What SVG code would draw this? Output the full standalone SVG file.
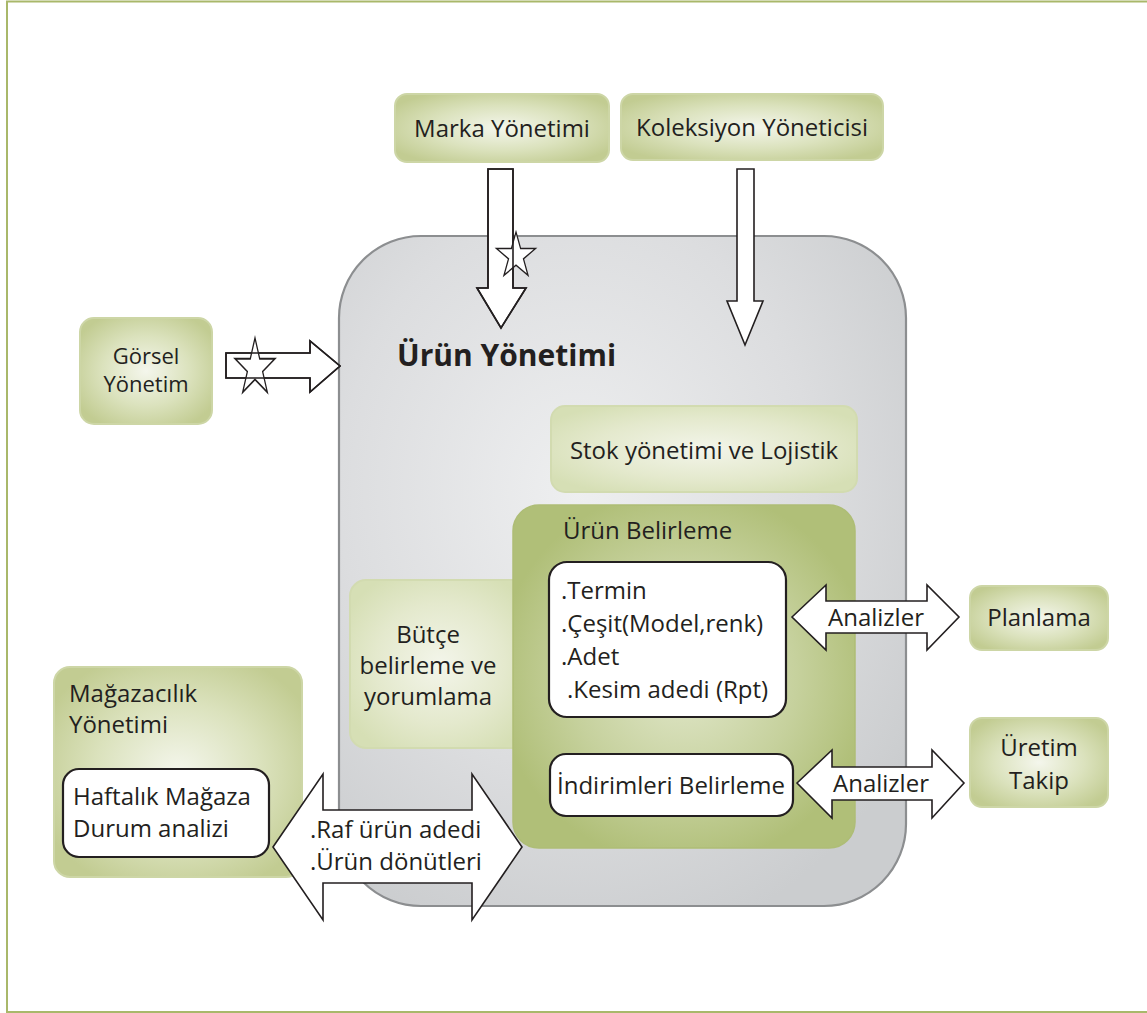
<svg xmlns="http://www.w3.org/2000/svg" width="1147" height="1013" viewBox="0 0 1147 1013">
  <defs>
    <radialGradient id="gGray" cx="0.42" cy="0.38" r="0.7">
      <stop offset="0" stop-color="#eeeff0"/>
      <stop offset="0.6" stop-color="#dcdddf"/>
      <stop offset="1" stop-color="#cbcdcf"/>
    </radialGradient>
    <radialGradient id="gGreen" cx="0.5" cy="0.5" r="0.6">
      <stop offset="0" stop-color="#f4f6ec"/>
      <stop offset="0.55" stop-color="#dbe2bd"/>
      <stop offset="1" stop-color="#c2cc92"/>
    </radialGradient>
    <radialGradient id="gPale" cx="0.5" cy="0.5" r="0.6">
      <stop offset="0" stop-color="#f3f5ea"/>
      <stop offset="0.6" stop-color="#e4e9cd"/>
      <stop offset="1" stop-color="#d6dfb5"/>
    </radialGradient>
    <radialGradient id="gDeep" cx="0.5" cy="0.5" r="0.55">
      <stop offset="0" stop-color="#e2e8cc"/>
      <stop offset="0.6" stop-color="#c6d19d"/>
      <stop offset="1" stop-color="#b0bf78"/>
    </radialGradient>
    <polygon id="star" points="0,-1 0.2245,-0.309 0.951,-0.309 0.3633,0.118 0.588,0.809 0,0.382 -0.588,0.809 -0.3633,0.118 -0.951,-0.309 -0.2245,-0.309"/>
  </defs>
  <style>
    text { font-family: "Open Sans", "Noto Sans", "Liberation Sans", sans-serif; fill: #231f20; font-size: 24px; }
    .mid { text-anchor: middle; }
    .small { font-size: 22px; }
    .title { font-weight: bold; font-size: 30px; }
    .box { fill: url(#gGreen); stroke: #cdd6a6; stroke-width: 2; }
    .pale { fill: url(#gPale); stroke: #d2dbb0; stroke-width: 2; }
    .deep { fill: url(#gDeep); stroke: #aebd76; stroke-width: 1.5; }
    .white { fill: #ffffff; stroke: #231f20; stroke-width: 2.2; }
    .arrow { fill: #ffffff; stroke: #231f20; stroke-width: 1.6; stroke-linejoin: miter; }
    .outline { fill: none; stroke: #231f20; stroke-width: 1.6; }
    .star { fill: #ffffff; stroke: #231f20; stroke-width: 0.06; }
  </style>

  <!-- page frame -->
  <rect x="7" y="1.5" width="1150" height="1010.5" fill="#ffffff" stroke="#a9b86a" stroke-width="2"/>

  <!-- central product-management area -->
  <g id="urun-yonetimi">
    <rect x="339" y="236" width="567" height="670" rx="82" fill="url(#gGray)" stroke="#8c8e90" stroke-width="2.2"/>
    <text class="title" x="397" y="366">Ürün Yönetimi</text>
  </g>

  <g id="stok">
    <rect class="pale" x="551" y="406" width="306" height="86" rx="14"/>
    <text class="mid" x="704" y="459">Stok yönetimi ve Lojistik</text>
  </g>

  <g id="butce">
    <rect class="pale" x="350" y="580" width="180" height="168" rx="16"/>
    <text class="mid" x="428" y="643">Bütçe</text>
    <text class="mid" x="428" y="674">belirleme ve</text>
    <text class="mid" x="428" y="705">yorumlama</text>
  </g>

  <g id="urun-belirleme">
    <rect class="deep" x="513" y="505" width="342" height="343" rx="26"/>
    <text x="563" y="539">Ürün Belirleme</text>
  </g>

  <g id="termin">
    <rect class="white" x="549" y="562" width="237" height="155" rx="18"/>
    <text x="561" y="599">.Termin</text>
    <text x="561" y="632">.Çeşit(Model,renk)</text>
    <text x="561" y="665">.Adet</text>
    <text x="567" y="698">.Kesim adedi (Rpt)</text>
  </g>

  <g id="indirimler">
    <rect class="white" x="550" y="754" width="243" height="62" rx="16"/>
    <text class="mid" x="671" y="794">İndirimleri Belirleme</text>
  </g>

  <!-- outer departments -->
  <g id="marka">
    <rect class="box" x="395" y="94" width="214" height="68" rx="12"/>
    <text class="mid" x="502" y="137">Marka Yönetimi</text>
  </g>

  <g id="koleksiyon">
    <rect class="box" x="621" y="94" width="262" height="66" rx="12"/>
    <text class="mid" x="752" y="136">Koleksiyon Yöneticisi</text>
  </g>

  <g id="gorsel">
    <rect class="box" x="80" y="318" width="132" height="106" rx="14"/>
    <text class="mid small" x="146" y="364">Görsel</text>
    <text class="mid small" x="146" y="392">Yönetim</text>
  </g>

  <g id="planlama">
    <rect class="box" x="970" y="586" width="138" height="64" rx="12"/>
    <text class="mid" x="1039" y="626">Planlama</text>
  </g>

  <g id="uretim-takip">
    <rect class="box" x="970" y="718" width="138" height="89" rx="12"/>
    <text class="mid" x="1039" y="756">Üretim</text>
    <text class="mid" x="1039" y="789">Takip</text>
  </g>

  <g id="magazacilik">
    <rect class="box" x="54" y="667" width="248" height="210" rx="16"/>
    <text x="69" y="702">Mağazacılık</text>
    <text x="69" y="733">Yönetimi</text>
    <rect class="white" x="63" y="769" width="206" height="88" rx="16"/>
    <text x="73" y="805">Haftalık Mağaza</text>
    <text x="73" y="837">Durum analizi</text>
  </g>

  <!-- block arrows between departments -->
  <g id="connectors">
    <!-- Marka -> Ürün Yönetimi -->
    <polygon class="arrow" points="488,169 513,169 513,288 526,288 501,328 477,288 488,288"/>
    <use href="#star" class="star" transform="translate(516,256) scale(20.5,24)"/>
    <polygon class="outline" points="488,169 513,169 513,288 526,288 501,328 477,288 488,288"/>

    <!-- Koleksiyon -> Ürün Yönetimi -->
    <polygon class="arrow" points="737,169 754,169 754,301 763,301 745,345 727,301 737,301"/>

    <!-- Görsel -> Ürün Yönetimi -->
    <polygon class="arrow" points="226,353 310,353 310,341 340,366 310,392 310,378 226,378"/>
    <use href="#star" class="star" transform="translate(255,368) scale(21,30)"/>
    <polygon class="outline" points="226,353 310,353 310,341 340,366 310,392 310,378 226,378"/>

    <!-- Ürün Belirleme <-> Planlama -->
    <polygon class="arrow" points="792,617 826,585 826,601 927,601 927,585 959,617 927,650 927,633 826,633 826,650"/>
    <text class="mid" x="876" y="626">Analizler</text>

    <!-- İndirimler <-> Üretim Takip -->
    <polygon class="arrow" points="797,783 832,750 832,767 932,767 932,750 964,783 932,818 932,800 832,800 832,818"/>
    <text class="mid" x="881" y="792">Analizler</text>

    <!-- Mağazacılık <-> Ürün Yönetimi -->
    <polygon class="arrow" points="273,847 323,774 323,810 472,810 472,774 522,847 472,920 472,883 323,883 323,920"/>
    <text x="310" y="838">.Raf ürün adedi</text>
    <text x="310" y="870">.Ürün dönütleri</text>
  </g>
</svg>
